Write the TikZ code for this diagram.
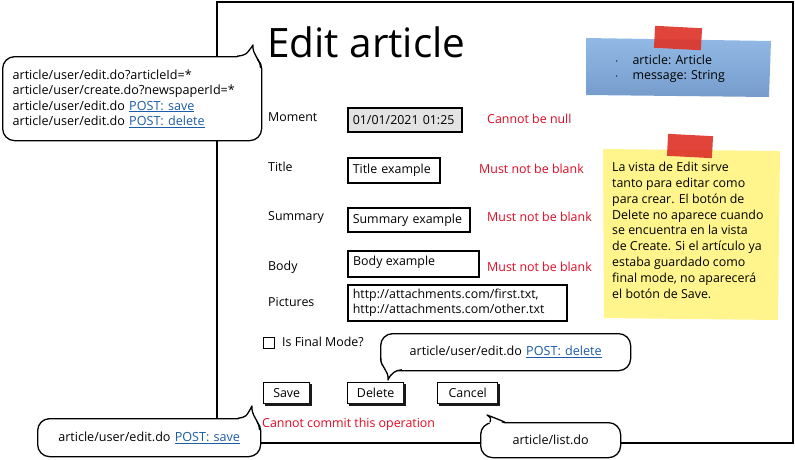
\documentclass[tikz,border=0pt]{standalone}
\usepackage{fontspec}
\setmainfont{Open Sans}
\definecolor{linkblue}{RGB}{28,91,166}
\definecolor{errred}{RGB}{222,10,35}
\definecolor{bluetop}{RGB}{146,185,229}
\definecolor{bluebot}{RGB}{118,156,204}
\definecolor{notey}{RGB}{255,245,140}
\definecolor{tapered}{RGB}{222,52,42}
\definecolor{fieldgray}{RGB}{227,227,227}
\definecolor{shadowgray}{RGB}{25,25,25}
\newcommand{\lnk}[1]{{\color{linkblue}\underline{#1}}}
\begin{document}
\begin{tikzpicture}[x=1pt,y=-1pt,
  txt/.style={font=\fontsize{12.4}{15}\selectfont, inner sep=0pt, anchor=west},
  err/.style={txt, text=errred},
  fieldbox/.style={draw, line width=1.6pt, font=\fontsize{12.4}{15.5}\selectfont, align=left, inner xsep=5pt, inner ysep=0pt, anchor=north west},
  btnface/.style={draw, line width=1.4pt, fill=white, font=\fontsize{12.4}{14}\selectfont, inner sep=0pt, anchor=north west, minimum height=21pt},
  callout/.style={draw, line width=1.3pt, fill=white, rounded corners=12pt, anchor=north west, font=\fontsize{12.6}{15.5}\selectfont, align=left, inner sep=0pt},
  tail/.style={line width=1.3pt, line join=round},
  tape/.style={fill=tapered, opacity=0.92, inner sep=0pt, anchor=center}
]
\useasboundingbox (0,0) rectangle (795,459);

% main window
\draw[line width=2pt] (217,2) rectangle (793,443);
\node[anchor=west, inner sep=0pt, font=\fontsize{40.5}{42}\selectfont] (title) at (267,42) {Edit article};

% blue sticky note
\shade[top color=bluetop, bottom color=bluebot] (586,38) -- (771,41) -- (769,97) -- (586,95) -- cycle;
\node[tape, minimum width=47pt, minimum height=22pt, rotate=-3] (tapeA) at (678,38) {};
\node[txt, align=left, font=\fontsize{12.4}{15}\selectfont] (vars) at (615,69) {$\cdot$\hspace{14pt}article: Article\\[0pt]$\cdot$\hspace{14pt}message: String};

% yellow sticky note
\fill[notey] (603,149) -- (780,151) -- (778,320) -- (604,318) -- cycle;
\node[tape, minimum width=45pt, minimum height=22pt, rotate=-3] (tapeB) at (690,146) {};
\node[anchor=north west, inner sep=0pt, align=left, font=\fontsize{12.4}{15.8}\selectfont] (note) at (612,162)
 {La vista de Edit sirve\\tanto para editar como\\para crear. El botón de\\Delete no aparece cuando\\se encuentra en la vista\\de Create. Si el artículo ya\\estaba guardado como\\final mode, no aparecerá\\el botón de Save.};

% labels
\node[txt] (lMoment) at (268,117) {Moment};
\node[txt] (lTitle) at (268,167) {Title};
\node[txt] (lSummary) at (268,217) {Summary};
\node[txt] (lBody) at (268,267) {Body};
\node[txt] (lPictures) at (268,302) {Pictures};

% fields
\node[fieldbox, fill=fieldgray, text width=104pt, minimum height=24pt] (fMoment) at (347,107) {01/01/2021 01:25};
\node[fieldbox, text width=82pt, minimum height=25pt] (fTitle) at (347,157) {Title example};
\node[fieldbox, text width=112pt, minimum height=24pt] (fSummary) at (347,207) {Summary example};
\node[fieldbox, text width=121pt, minimum height=26pt, anchor=north west] (fBody) at (347,250) {};
\node[txt] (tBody) at (353,262) {Body example};
\node[fieldbox, text width=209pt, minimum height=36pt] (fPictures) at (347,284) {http://attachments.com/first.txt,\\http://attachments.com/other.txt};

% errors
\node[err] (eMoment) at (487,119) {Cannot be null};
\node[err] (eTitle) at (479,169) {Must not be blank};
\node[err] (eSummary) at (487,217) {Must not be blank};
\node[err] (eBody) at (487,267) {Must not be blank};

% checkbox
\node[draw, line width=1pt, minimum size=11pt, inner sep=0pt, anchor=north west] (chk) at (263,337) {};
\node[txt] (lFinal) at (282,342) {Is Final Mode?};

% buttons: white face, then a thick dark edge on its right and bottom
\node[btnface, minimum width=46pt] (bSave) at (263,382) {Save};
\node[btnface, minimum width=56pt] (bDelete) at (347,382) {Delete};
\node[btnface, minimum width=60pt] (bCancel) at (437,382) {Cancel};
\fill[shadowgray] (308.5,384) rectangle (312,406);
\fill[shadowgray] (265,402.5) rectangle (312,406);
\fill[shadowgray] (402.5,384) rectangle (406,406);
\fill[shadowgray] (349,402.5) rectangle (406,406);
\fill[shadowgray] (496.5,384) rectangle (500,406);
\fill[shadowgray] (439,402.5) rectangle (500,406);

\node[err] (eCommit) at (262,424) {Cannot commit this operation};

% callout: URLs (top left)
\node[callout, minimum width=259pt, minimum height=84pt, text width=239pt] (cUrls) at (2,56)
 {article/user/edit.do?articleId=*\\article/user/create.do?newspaperId=*\\article/user/edit.do \lnk{POST: save}\\article/user/edit.do \lnk{POST: delete}};
\coordinate (tA) at (253,45);
\fill[white] (237,58) -- (tA) -- (259,68) -- cycle;
\draw[tail] (237,56.2) .. controls (246,55) .. (tA) .. controls (252,55) and (260,58) .. (260.6,68);

% callout: delete
\node[callout, minimum width=250pt, minimum height=37pt, align=center, text width=250pt] (cDelete) at (380,333) {article/user/edit.do \lnk{POST: delete}};
\coordinate (tD) at (388,380);
\fill[white] (381,360) -- (tD) -- (402,368) -- cycle;
\draw[tail] (380.6,358) .. controls (381,368) and (389,370) .. (tD) .. controls (391,373) and (396,370) .. (402,369.8);

% callout: save
\node[callout, minimum width=223pt, minimum height=38pt, align=center, text width=223pt] (cSave) at (37,418) {article/user/edit.do \lnk{POST: save}};
\coordinate (tS) at (252,406);
\fill[white] (238,420) -- (tS) -- (259,430) -- cycle;
\draw[tail] (238,418.2) .. controls (246,417) .. (tS) .. controls (251,416) and (259,420) .. (259.6,430);

% callout: list
\node[callout, minimum width=140pt, minimum height=35pt, align=center, text width=140pt] (cList) at (480,422) {article/list.do};
\coordinate (tL) at (487,415);
\fill[white] (490,424) -- (tL) -- (505,424) -- cycle;
\draw[tail] (490,422.2) .. controls (491,418) .. (tL) .. controls (495,418) and (500,420) .. (505,422.2);
\end{tikzpicture}
\end{document}
